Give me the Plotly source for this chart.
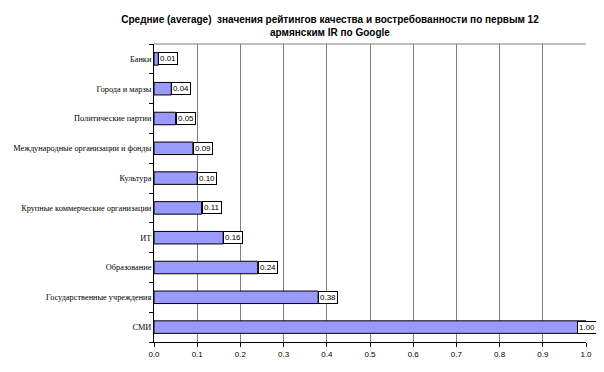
import plotly.graph_objects as go

categories = ["Банки", "Города и марзы", "Политические партии",
              "Международные организации и фонды", "Культура",
              "Крупные коммерческие организации", "ИТ", "Образование",
              "Государственные учреждения", "СМИ"]
values = [0.01, 0.04, 0.05, 0.09, 0.10, 0.11, 0.16, 0.24, 0.38, 1.00]
labels = ["0.01", "0.04", "0.05", "0.09", "0.10", "0.11", "0.16", "0.24", "0.38", "1.00"]
tick_vals = [0.0, 0.1, 0.2, 0.3, 0.4, 0.5, 0.6, 0.7, 0.8, 0.9, 1.0]
tick_text = ["0.0", "0.1", "0.2", "0.3", "0.4", "0.5", "0.6", "0.7", "0.8", "0.9", "1.0"]
title = "Средние (average)  значения рейтингов качества и востребованности по первым 12<br>армянским IR по Google"

# page body has an 8px default margin, so the figure is sized to fit inside it
W, H = 596, 364
X_MAX = 1.0

fig = go.Figure()
fig.add_trace(go.Bar(
    x=values, y=categories, orientation="h",
    marker=dict(color="#9999FF", line=dict(color="black", width=1)),
    width=0.42, hoverinfo="skip",
))

for v, c, t in zip(values, categories, labels):
    fig.add_annotation(
        x=v, y=c, xref="x", yref="y", text=t, showarrow=False,
        xanchor="left", yanchor="middle",
        xshift=-9 if v >= X_MAX else 0,  # label pushed inside the chart area at the edge
        font=dict(family="Liberation Sans, Arial", size=8, color="black"),
        bgcolor="white", bordercolor="black", borderwidth=1, borderpad=1,
    )

fig.update_layout(
    width=W, height=H,
    margin=dict(l=146, r=18, t=36, b=30, autoexpand=False),
    paper_bgcolor="white", plot_bgcolor="white",
    showlegend=False,
    title=dict(text=title, x=322 / W, xanchor="center", xref="container",
               y=1 - 15 / H, yanchor="middle",
               font=dict(family="Liberation Sans, Arial", size=10, color="black", weight="bold")),
    xaxis=dict(range=[0, X_MAX], tickvals=tick_vals, ticktext=tick_text,
               showgrid=True, gridcolor="#808080", gridwidth=1,
               showline=True, linecolor="black", linewidth=1,
               ticks="outside", ticklen=4, tickcolor="black",
               tickfont=dict(family="Liberation Sans, Arial", size=8, color="black"),
               zeroline=False, mirror=False, fixedrange=True, automargin=False),
    yaxis=dict(categoryorder="array", categoryarray=categories[::-1],
               showline=True, linecolor="black", linewidth=1,
               ticks="outside", ticklen=4, tickcolor="black",
               tickson="boundaries",
               tickfont=dict(family="Liberation Serif, Times New Roman", size=8.3, color="black"),
               showgrid=False, fixedrange=True, automargin=False),
)
# top border of plot area
fig.add_shape(type="line", xref="paper", yref="paper", x0=0, x1=1, y0=1, y1=1,
              line=dict(color="#808080", width=1))

fig.write_html("out.html")
